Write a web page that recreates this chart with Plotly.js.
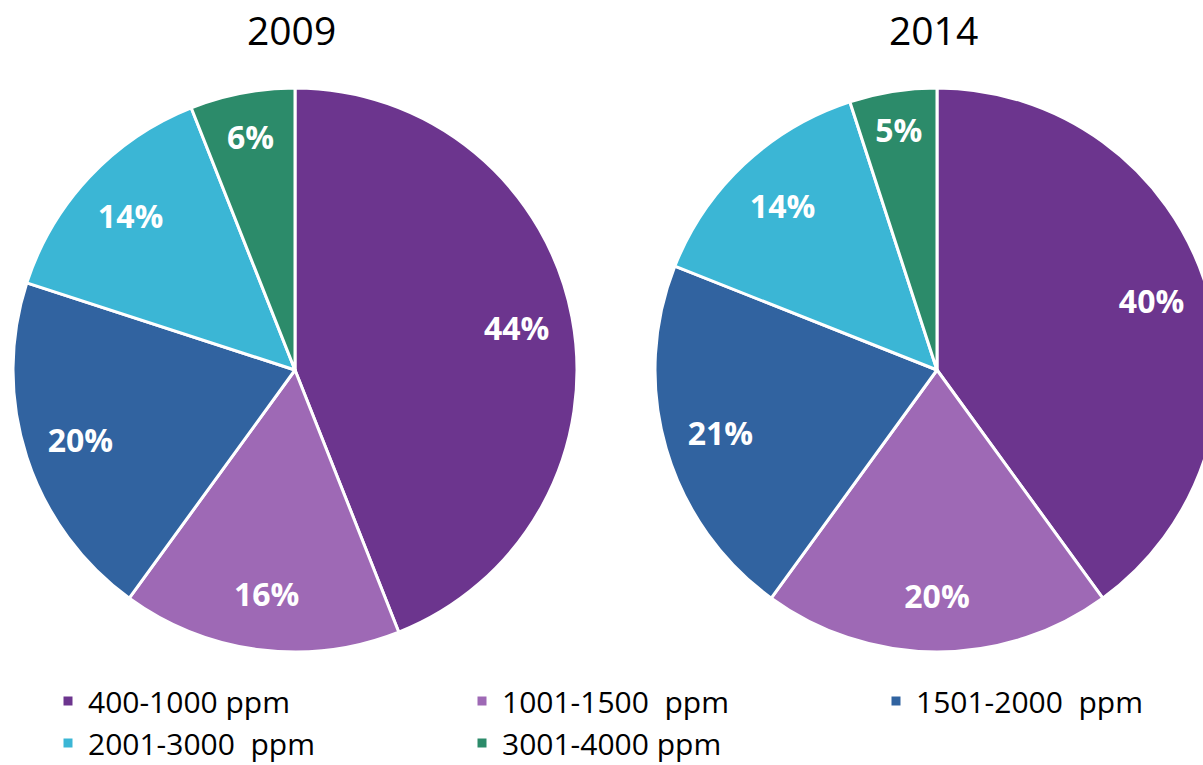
<!DOCTYPE html>
<html>
<head>
<meta charset="utf-8">
<script src="https://cdn.plot.ly/plotly-3.0.1.min.js"></script>
<style>
html,body{margin:0;padding:0;overflow:hidden;background:#fff;}
#chart{width:1300px;height:765px;}
</style>
</head>
<body>
<div id="chart"></div>
<script>
const categories = ["400-1000 ppm", "1001-1500\u00a0 ppm", "1501-2000\u00a0 ppm", "2001-3000\u00a0 ppm", "3001-4000 ppm"];
const values2009 = [44, 16, 20, 14, 6];
const values2014 = [40, 20, 21, 14, 5];
const years = ["2009", "2014"];
const colors = ["#6C358E", "#9E69B5", "#3163A0", "#3BB6D5", "#2C8B6A"];

const W = 1300, H = 765;
function dom(x0, x1, y0, y1) {
  return {x: [x0 / W, x1 / W], y: [1 - y1 / H, 1 - y0 / H]};
}

// base pies (coloured slices, legend)
function basePie(vals, name, d) {
  return {
    type: "pie", labels: categories, values: vals, name: name, domain: d,
    sort: false, direction: "clockwise", rotation: 0,
    textinfo: "none",
    marker: {colors: colors, line: {color: "#ffffff", width: 3}},
    hoverinfo: "label+percent"
  };
}
// transparent donut overlay carrying the percentage labels in the outer ring
function labelPie(vals, name, d) {
  return {
    type: "pie", labels: categories, values: vals, name: name, domain: d,
    sort: false, direction: "clockwise", rotation: 0, hole: 0.6,
    showlegend: false,
    texttemplate: "%{percent:.0%}",
    textposition: "inside",
    insidetextorientation: "horizontal",
    insidetextfont: {family: "Open Sans", size: 32, color: "#ffffff", weight: "bold"},
    marker: {colors: colors.map(() => "rgba(0,0,0,0)"), line: {width: 0}},
    hoverinfo: "skip"
  };
}

const d1 = dom(13, 577, 88, 652);
const d2 = dom(655, 1219, 88, 652);
const traces = [
  basePie(values2009, years[0], d1),
  basePie(values2014, years[1], d2),
  labelPie(values2009, years[0], d1),
  labelPie(values2014, years[1], d2)
];

const layout = {
  width: W, height: H,
  margin: {l: 0, r: 0, t: 0, b: 0, autoexpand: false},
  paper_bgcolor: "#ffffff",
  font: {family: "Open Sans", color: "#000000"},
  showlegend: true,
  legend: {
    orientation: "h",
    x: 48 / W, xanchor: "left",
    y: 1 - 675 / H, yanchor: "top",
    entrywidth: 369, entrywidthmode: "pixels",
    font: {family: "Open Sans", size: 30, color: "#000000"},
    traceorder: "normal"
  },
  annotations: [
    {text: years[0], x: 291 / W, y: 1 - 30 / H, xref: "paper", yref: "paper", showarrow: false, xanchor: "center", yanchor: "middle", font: {family: "Open Sans", size: 39, color: "#000000"}},
    {text: years[1], x: 933 / W, y: 1 - 30 / H, xref: "paper", yref: "paper", showarrow: false, xanchor: "center", yanchor: "middle", font: {family: "Open Sans", size: 39, color: "#000000"}}
  ]
};

Plotly.newPlot("chart", traces, layout, {displayModeBar: false});
</script>
</body>
</html>
